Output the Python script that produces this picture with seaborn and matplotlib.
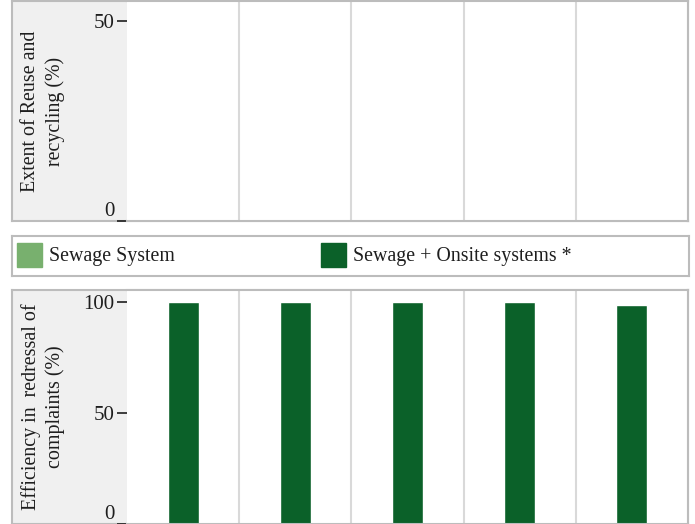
import numpy as np
import pandas as pd
import matplotlib
matplotlib.use("Agg")
import matplotlib.pyplot as plt
from matplotlib.patches import Rectangle
import seaborn as sns

# data
categories = ["C1", "C2", "C3", "C4", "C5"]
systems = ["Sewage System", "Sewage + Onsite systems *"]
reuse_onsite = [np.nan, np.nan, np.nan, np.nan, np.nan]
complaints_onsite = [100, 100, 100, 100, 98.6]

reuse_label = "Extent of Reuse and\nrecycling (%)"
complaints_label = "Efficiency in  redressal of\ncomplaints (%)"

light_green = "#78b06e"
dark_green = "#0b6129"
frame_grey = "#bcbcbc"
grid_grey = "#d9d9d9"
panel_grey = "#f0f0f0"
text_col = "#1e1e1e"

sns.set_style("white")
plt.rcParams["font.family"] = ["Liberation Serif", "DejaVu Serif"]
plt.rcParams["font.size"] = 14

W, H = 695, 524
fig = plt.figure(figsize=(W / 100, H / 100), dpi=100)


def box(x0, y0, x1, y1):
    return [x0 / W, 1 - y1 / H, (x1 - x0) / W, (y1 - y0) / H]


def panel(y0, y1, values, ylim, ticks, label):
    outer = fig.add_axes(box(12, y0, 688, y1))
    outer.set_facecolor(panel_grey)
    outer.set_xticks([])
    outer.set_yticks([])
    for s in outer.spines.values():
        s.set_color(frame_grey)
        s.set_linewidth(1.5)
    outer.text(31 / 676, 0.5, label, rotation=90, ha="center", va="center",
               transform=outer.transAxes, fontsize=14.4, color=text_col,
               linespacing=1.3)

    ax = fig.add_axes(box(127, y0, 688, y1))
    ax.set_facecolor("white")
    df = pd.DataFrame({"category": categories, "value": values,
                       "system": systems[1]})
    sns.barplot(data=df, x="category", y="value", hue="system",
                palette={systems[0]: light_green, systems[1]: dark_green},
                dodge=False, width=0.275, saturation=1, legend=False, ax=ax)
    ax.set_xlim(-0.5, len(categories) - 0.5)
    ax.set_ylim(*ylim)
    ax.set_xticks(np.arange(len(categories)) + 0.5, minor=True)
    ax.set_xticks([])
    ax.grid(True, which="minor", axis="x", color=grid_grey, linewidth=1.5)
    ax.set_axisbelow(True)
    ax.set_yticks(ticks)
    ax.set_yticklabels([str(t) for t in ticks])
    ax.tick_params(axis="y", length=7, width=1.2, color=text_col,
                   labelsize=15, pad=2, labelcolor=text_col, left=True)
    ax.tick_params(axis="x", which="both", length=0)
    for lab, t in zip(ax.get_yticklabels(), ticks):
        if t == 0:
            lab.set_va("bottom")
    ax.set_xlabel("")
    ax.set_ylabel("")
    for name, s in ax.spines.items():
        s.set_color(frame_grey)
        s.set_linewidth(1.5)
    ax.spines["left"].set_visible(False)
    return ax


panel(1, 221, reuse_onsite, (0, 55), [0, 50], reuse_label)
panel(290, 524, complaints_onsite, (0, 105.4), [0, 50, 100], complaints_label)

# legend strip
leg = fig.add_axes(box(12, 236, 689, 276))
leg.set_xlim(12, 689)
leg.set_ylim(276, 236)
leg.set_xticks([])
leg.set_yticks([])
for s in leg.spines.values():
    s.set_color(frame_grey)
    s.set_linewidth(1.5)
for x, color, name in [(17, light_green, systems[0]), (321, dark_green, systems[1])]:
    leg.add_patch(Rectangle((x, 243), 25, 24, color=color))
    leg.text(x + 32, 256, name, va="center", ha="left", fontsize=14.3,
             color=text_col)

fig.savefig("out.png", dpi=100)
